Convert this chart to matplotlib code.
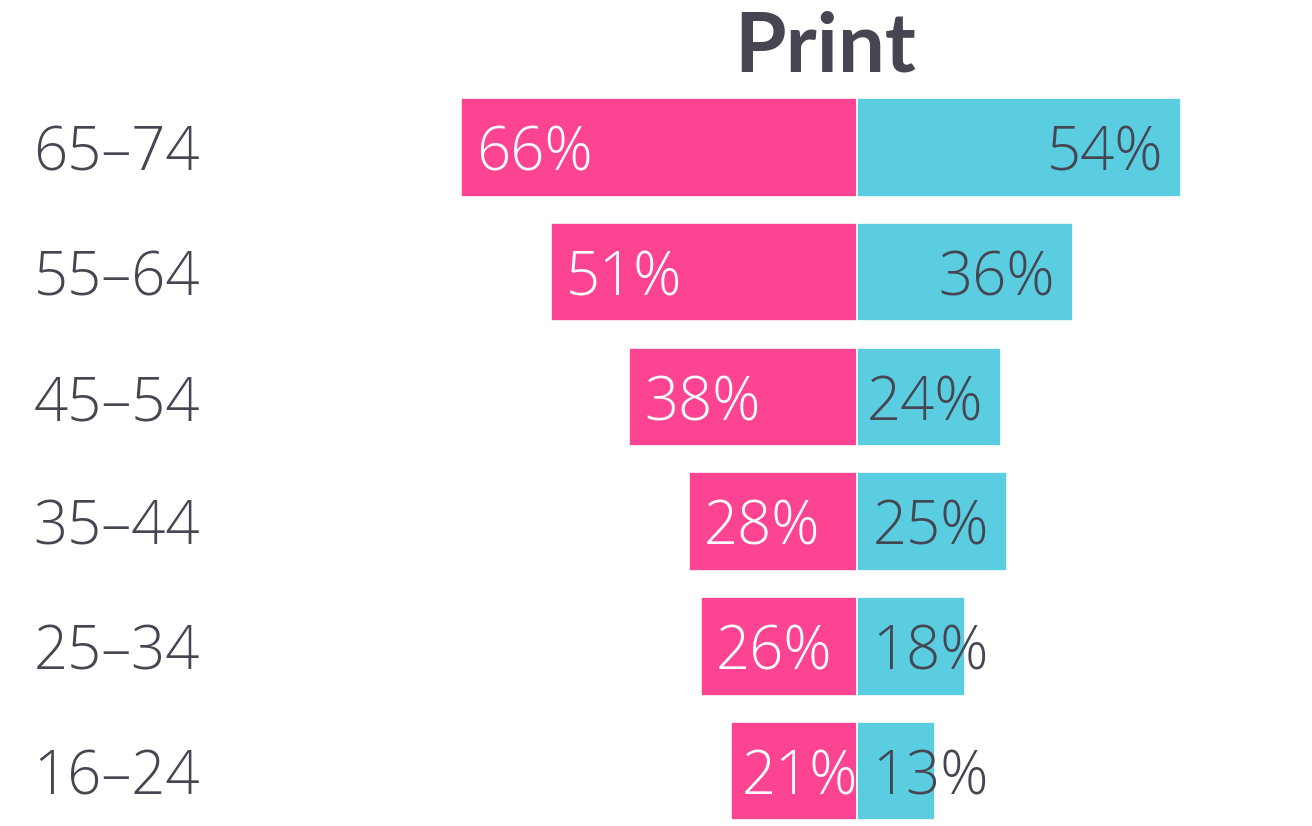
import matplotlib
matplotlib.use("Agg")
import matplotlib.pyplot as plt

# ── Data ─────────────────────────────────────────────────────────
AGE_GROUPS = ["16–24", "25–34", "35–44", "45–54", "55–64", "65–74"]
LEFT_PCT   = [21, 26, 28, 38, 51, 66]   # pink, drawn to the left
RIGHT_PCT  = [13, 18, 25, 24, 36, 54]   # cyan, drawn to the right
TITLE      = "Print"

PINK = "#FC4493"
CYAN = "#5BCDE0"
DARK = "#454651"
FONT = "Open Sans"

W, H = 1312, 826
fig = plt.figure(figsize=(W / 100, H / 100), dpi=100)
ax = fig.add_axes([0, 0, 1, 1])

# 6 px per percentage point, zero line at x=857px
px_per_pct = 6.0
center_px = 857
ax.set_xlim(-center_px / px_per_pct, (W - center_px) / px_per_pct)
row_px = 124.7
ax.set_ylim(-(H - 771) / row_px, 771 / row_px)
ax.axis("off")

y = list(range(len(AGE_GROUPS)))
ax.barh(y, [-v for v in LEFT_PCT], height=0.79, color=PINK,
        edgecolor="white", linewidth=1.2)
ax.barh(y, RIGHT_PCT, height=0.79, color=CYAN,
        edgecolor="white", linewidth=1.2)

label_kw = dict(fontsize=43, family=FONT, fontweight="light",
                va="center_baseline")

for yi, name, lv, rv in zip(y, AGE_GROUPS, LEFT_PCT, RIGHT_PCT):
    ax.text(-109.5, yi, name, ha="right", color=DARK, **label_kw)
    # short pink bars get a tighter left pad so the label stays inside
    pad = 2.5 if lv >= 25 else 1.8
    ax.text(-lv + pad, yi, f"{lv}%", ha="left", color="white", **label_kw)
    if rv >= 24:
        ax.text(rv - 3, yi, f"{rv}%", ha="right", color=DARK, **label_kw)
    else:
        ax.text(2.5, yi, f"{rv}%", ha="left", color=DARK, **label_kw)

fig.text(825 / W, 1 - 41 / H, TITLE, ha="center", va="center_baseline",
         fontsize=60, family="Lato", fontweight="bold", color=DARK)

fig.savefig("out.png", dpi=100)
